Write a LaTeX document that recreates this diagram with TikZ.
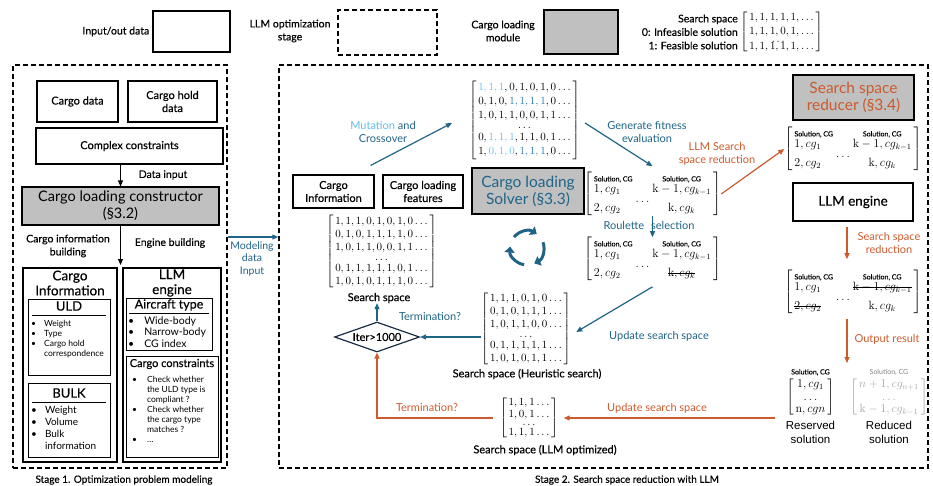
\documentclass[tikz,border=0pt]{standalone}
\usepackage{amsmath}
\usepackage[no-math]{fontspec}
\setmainfont{Lato}
\newfontfamily\semi{Lato}[FakeBold=0.4]
\newfontfamily\arialf{Liberation Sans}
\usepackage{tikz}
\usetikzlibrary{arrows.meta}
\usetikzlibrary{shapes.geometric,positioning}
\usetikzlibrary{calc}
\definecolor{tealb}{RGB}{31,100,135}
\definecolor{skyb}{RGB}{95,190,230}
\definecolor{midb}{RGB}{40,115,180}
\definecolor{rust}{RGB}{205,90,45}
\definecolor{boxgray}{RGB}{192,192,192}
\definecolor{navy}{RGB}{25,45,70}
\newcommand{\fsz}[2]{\fontsize{#1}{#2}\selectfont}
\newcommand{\solhdr}{\text{\fsz{7}{7}\semi Solution, CG}}
\newcommand{\strucksol}[1]{\setbox0\hbox{$#1$}\rlap{\rule[0.55ex]{\wd0}{0.6pt}}\box0}
% solution / CG matrix
\newcommand{\solmat}[4]{$\left[\begin{array}{@{\,}l@{\hspace{3pt}}c@{\hspace{3pt}}c@{\,}}
 \solhdr & & \solhdr\\[-1pt]
 #1 & & #2\\[-2pt]
 & \ldots & \\[-3pt]
 #3 & & #4
\end{array}\right]$}
\tikzset{
    databox/.style={draw, line width=1.1pt, inner sep=0pt, align=center},
    modbox/.style={databox, fill=boxgray},
    stageframe/.style={draw, line width=1.5pt, dash pattern=on 5pt off 3pt},
    subbox/.style={draw, line width=1pt, inner sep=0pt},
    mat/.style={inner sep=0pt},
    lbl/.style={align=center, inner sep=0pt},
    % arrows
    tealarrow/.style={line width=1.2pt, tealb, -{Triangle[length=6pt, width=5pt]}},
    rustarrow/.style={line width=1.2pt, rust, -{Triangle[length=6pt, width=5pt]}},
    blackarrow/.style={line width=1pt, black, -{Triangle[length=6pt, width=5pt]}},
    cycarrow/.style={line width=3pt, tealb, -{Triangle[length=6pt, width=10pt]}}
}
\begin{document}
\begin{tikzpicture}[x=1pt,y=-1pt]
\useasboundingbox (0,0) rectangle (933,485);

% legend
\node[databox, minimum width=77pt, minimum height=41pt] (legIO) at (191.5,31.5) {};
\node[lbl, font=\fsz{10.5}{13}\semi, left=3pt of legIO] (legIOt) {Input/out data};
\node[databox, stageframe, minimum width=99pt, minimum height=45pt] (legLLM) at (387.5,32.5) {};
\node[lbl, font=\fsz{10.5}{13}\semi] (legLLMt) at (290,31) {LLM optimization\\stage};
\node[modbox, minimum width=74pt, minimum height=44pt] (legMod) at (581,32) {};
\node[lbl, font=\fsz{10.5}{13}\semi] (legModt) at (503,31) {Cargo loading\\module};
\node[lbl, align=right, anchor=east, font=\fsz{10.5}{13.5}\semi] (legSSt) at (738,32)
  {Search space\\0: Infeasible solution\\1: Feasible solution};
\node[mat, anchor=west, font=\fsz{11}{14.5}] (legM) at (740,32)
  {$\left[\begin{array}{@{\,}l@{\,}} 1, 1, 1, 1, 1, \ldots\\ 1, 1, 1, 0, 1, \ldots\\[-4.5pt]
   \hphantom{1, 1, }\,\cdots\\[-10pt] 1, 1, 1, 1, 1, \ldots\end{array}\right]$};

% stage 1
\node[stageframe, minimum width=214pt, minimum height=403pt] (stage1) at (120,266.5) {};
\node[databox, minimum width=81pt, minimum height=41pt, font=\fsz{11}{13}\semi] (cdata) at (77.5,101.5) {Cargo data};
\node[databox, minimum width=89pt, minimum height=41pt, font=\fsz{11}{13}\semi] (chold) at (172.5,101.5) {Cargo hold\\data};
\node[databox, minimum width=187pt, minimum height=36pt, font=\fsz{11}{13}\semi] (cons) at (129.5,146) {Complex constraints};
\node[modbox, minimum width=197pt, minimum height=38pt, font=\fsz{14.5}{17}] (ctor) at (120.5,206) {Cargo loading constructor\\(§3.2)};
\draw[blackarrow] (ctor.north |- cons.south) -- (ctor.north);
\node[lbl, font=\fsz{10.5}{13}\semi] (dinput) at (163,175) {Data input};
\coordinate (split) at (120.5,265);
\draw[blackarrow] (ctor.south) -- (split);
\node[lbl, font=\fsz{10.5}{13}\semi] (cibuild) at (68,246) {Cargo information\\building};
\node[lbl, font=\fsz{10.5}{13}\semi] (ebuild) at (170,243) {Engine building};

\node[databox, minimum width=94pt, minimum height=194pt] (cinfo) at (70,365) {};
\node[lbl, font=\fsz{13.5}{15}\semi] (cinfoT) at (70,283) {Cargo\\Information};
\node[subbox, minimum width=82pt, minimum height=76pt] (uld) at (69,337) {};
\node[lbl, font=\fsz{13}{15}\semi] (uldT) at (69,306) {ULD};
\draw[line width=0.8pt] (32,315) -- (106,315);
\node[anchor=north west, inner sep=0pt, font=\fsz{8.5}{10}] (uldI) at (31,319)
  {\begin{tabular}{@{}l@{\hspace{8pt}}l@{}}\textbullet & Weight\\ \textbullet & Type\\ \textbullet & Cargo hold\\ & correspondence\end{tabular}};
\node[subbox, minimum width=82pt, minimum height=74pt] (bulk) at (69,420) {};
\node[lbl, font=\fsz{13}{15}\semi] (bulkT) at (69,393) {BULK};
\draw[line width=0.8pt] (32,402) -- (106,402);
\node[anchor=north west, inner sep=0pt, font=\fsz{10}{12}] (bulkI) at (31,405)
  {\begin{tabular}{@{}l@{\hspace{8pt}}l@{}}\textbullet & Weight\\ \textbullet & Volume\\ \textbullet & Bulk\\ & information\end{tabular}};

\node[databox, minimum width=98pt, minimum height=194pt] (llm) at (172,365) {};
\node[lbl, font=\fsz{13.5}{15}\semi] (llmT) at (172,283) {LLM\\engine};
\node[subbox, minimum width=86pt, minimum height=52pt] (acft) at (169,324) {};
\node[lbl, font=\fsz{12.5}{15}\semi] (acftT) at (169,305) {Aircraft type};
\draw[line width=0.8pt] (129,313) -- (209,313);
\node[anchor=north west, inner sep=0pt, font=\fsz{10.5}{11.5}] (acftI) at (128,316)
  {\begin{tabular}{@{}l@{\hspace{10pt}}l@{}}\textbullet & Wide-body\\ \textbullet & Narrow-body\\ \textbullet & CG index\end{tabular}};
\node[subbox, minimum width=92pt, minimum height=101pt] (ccons) at (172,406.5) {};
\node[lbl, font=\fsz{11}{13}\semi] (cconsT) at (172,364) {Cargo constraints};
\node[anchor=north west, inner sep=0pt, font=\fsz{8.5}{10}] (cconsI) at (132,375)
  {\begin{tabular}{@{}l@{\hspace{10pt}}l@{}}\textbullet & Check whether\\ & the ULD type is\\ & compliant ?\\
   \textbullet & Check whether\\ & the cargo type\\ & matches ?\\ \textbullet & \ldots\end{tabular}};
\node[lbl, font=\fsz{10}{11}\semi] (cap1) at (124,480) {Stage 1. Optimization problem modeling};

% stage 2
\node[stageframe, minimum width=649pt, minimum height=403pt] (stage2) at (603.5,266.5) {};
\draw[tealarrow] ([yshift=29.5pt]stage1.east) -- ([yshift=29.5pt]stage2.west);
\node[lbl, font=\fsz{10.5}{12.5}, tealb] (modin) at (252,259) {Modeling\\data\\Input};

\node[mat, font=\fsz{11}{14}] (topM) at (524.5,120)
  {$\left[\begin{array}{@{\,}c@{\,}}
   \textcolor{skyb}{1, 1, 1}, 0, 1, 0, 1, 0 \ldots\\
   0, 1, 0, \textcolor{midb}{1, 1, 1, 1}, 0 \ldots\\
   1, 0, 1, 1, 0, 0, 1, 1 \ldots\\[-4pt]
   \ldots\\[-2pt]
   0, \textcolor{skyb}{1, 1, 1}, 1, 1, 0, 1 \ldots\\
   1, \textcolor{skyb}{0, 1, 0}, \textcolor{midb}{1, 1, 1}, 0 \ldots
  \end{array}\right]$};
\node[databox, minimum width=81pt, minimum height=33pt, font=\fsz{11}{13}\semi] (info2) at (333.5,191.5) {Cargo\\Information};
\node[databox, minimum width=80pt, minimum height=33pt, font=\fsz{11}{13}\semi] (feat2) at (423,191.5) {Cargo loading\\features};
\draw[tealarrow] ([shift={(-4pt,9pt)}]info2.north east) -- ([shift={(-17pt,-3pt)}]topM.west);
\node[lbl, font=\fsz{11}{13}] (mutL) at (383,132) {\textcolor{skyb}{Mutation} \textcolor{tealb}{and}\\\textcolor{tealb}{Crossover}};

\node[mat, font=\fsz{11}{13}] (ssM) at (381.5,251.5)
  {$\left[\begin{array}{@{\,}c@{\,}}
   1, 1, 1, 0, 1, 0, 1, 0 \ldots\\
   0, 1, 0, 1, 1, 1, 1, 0 \ldots\\
   1, 0, 1, 1, 0, 0, 1, 1 \ldots\\[-3pt]
   \ldots\\[-2pt]
   0, 1, 1, 1, 1, 1, 0, 1 \ldots\\
   1, 0, 1, 0, 1, 1, 1, 0 \ldots
  \end{array}\right]$};
\node[lbl, font=\fsz{11}{13}\semi] (ssL) at (379,298) {Search space};

\node[modbox, minimum width=112pt, minimum height=46pt, font=\fsz{15.5}{17}, text=tealb] (solver) at (528,191) {Cargo loading\\Solver (§3.3)};
\coordinate (cyc) at (527,248);
\foreach \a in {140,20,-100}
  \draw[cycarrow] ($(cyc)+(\a:17pt)$) arc (\a:\a-85:17pt);

\node[mat, font=\fsz{11.5}{12}] (fitM) at (652.5,194) {\solmat{1, cg_1}{\mathrm{k}-1, cg_{k-1}}{2, cg_2}{\mathrm{k}, cg_k}};
\draw[tealarrow] ([shift={(5pt,-3pt)}]topM.east) -- ([yshift=6pt]fitM.north);
\node[lbl, font=\fsz{11}{13}, tealb] (fitL) at (647,132) {Generate fitness\\evaluation};

\node[mat, font=\fsz{11.5}{12}] (selM) at (652.5,259) {\solmat{1, cg_1}{\mathrm{k}-1, cg_{k-1}}{2, cg_2}{\strucksol{\mathrm{k}, cg_k}}};
\draw[tealarrow] (fitM.south) -- (selM.north);
\node[lbl, font=\fsz{11}{13}, tealb] (rouL) at (649,225) {Roulette\hspace{7pt}selection};

\node[modbox, minimum width=121pt, minimum height=45pt, font=\fsz{15.5}{17}, text=rust] (reducer) at (853.5,97.5) {Search space\\reducer (§3.4)};
\node[mat, font=\fsz{11.5}{12}] (redM) at (853,149) {\solmat{1, cg_1}{\mathrm{k}-1, cg_{k-1}}{2, cg_2}{\mathrm{k}, cg_k}};
\draw[rustarrow] (fitM.east) -- (redM.west);
\node[lbl, font=\fsz{11}{13}, rust] (llmsL) at (717,154) {LLM Search\\space reduction};
\node[databox, minimum width=120pt, minimum height=38pt, font=\fsz{13.5}{15}\semi] (llmE) at (853,202) {LLM engine};

\node[mat, font=\fsz{11.5}{12}] (cutM) at (853,292) {\solmat{1, cg_1}{\strucksol{\mathrm{k}-1, cg_{k-1}}}{\strucksol{2, cg_2}}{\mathrm{k}, cg_k}};
\draw[rustarrow] ([shift={(-6pt,-5pt)}]llmE.south) -- ([shift={(-6pt,11pt)}]cutM.north);
\node[lbl, font=\fsz{11}{13}, rust] (ssrL) at (889,243) {Search space\\reduction};

\coordinate (outend) at (847,363);
\draw[rustarrow] ([shift={(-6pt,-5pt)}]cutM.south) -- (outend);
\node[lbl, font=\fsz{11}{13}, rust] (outL) at (887,339) {Output result};

\node[mat, font=\fsz{11.5}{12.5}] (resM) at (810.5,397.5)
  {$\left[\begin{array}{@{\,}c@{\,}} 1, cg_1\\ \ldots\\ \mathrm{n}, cgn\end{array}\right]$};
\node[lbl, font=\fsz{7}{7}\semi, above=3pt of resM] (resH) {Solution, CG};
\node[lbl, font=\fsz{11.5}{14}\arialf, below=5pt of resM] (resL) {Reserved\\solution};
\node[mat, font=\fsz{11.5}{12.5}, text=gray!70] (rdcM) at (889,397.5)
  {$\left[\begin{array}{@{\,}c@{\,}} n+1, cg_{n+1}\\ \ldots\\ \mathrm{k}-1, cg_{k-1}\end{array}\right]$};
\node[lbl, font=\fsz{7}{7}, text=gray, above=3pt of rdcM] (rdcH) {Solution, CG};
\node[lbl, font=\fsz{11.5}{14}\arialf, below=5pt of rdcM] (rdcL) {Reduced\\solution};

\node[mat, font=\fsz{11}{13}] (heurM) at (526,329)
  {$\left[\begin{array}{@{\,}c@{\,}}
   1, 1, 1, 0, 1, 0 \ldots\\
   0, 1, 0, 1, 1, 1 \ldots\\
   1, 0, 1, 1, 0, 0 \ldots\\[-3pt]
   \ldots\\[-2pt]
   0, 1, 1, 1, 1, 1 \ldots\\
   1, 0, 1, 0, 1, 1 \ldots
  \end{array}\right]$};
\node[lbl, font=\fsz{11}{13}\semi] (heurL) at (527,374) {Search space (Heuristic search)};
\draw[tealarrow] ([yshift=-6pt]selM.south) -- ([shift={(5pt,-3pt)}]heurM.east);
\node[lbl, font=\fsz{11}{13}, tealb] (updL) at (659,336) {Update search space};

\node[diamond, draw=navy, line width=1.2pt, aspect=2.8, minimum width=85pt, minimum height=30pt, inner sep=0pt, font=\fsz{11}{13}\semi] (iter) at (377,337) {Iter>1000};
\draw[tealarrow] ([yshift=-8pt]heurM.west) -- (iter.east);
\node[lbl, font=\fsz{11}{13}, tealb] (termT) at (430,317) {Termination?};
\draw[tealarrow] (iter.north) -- (iter.north |- ssL.south);

\node[mat, font=\fsz{11}{11.5}] (llmM) at (529,418)
  {$\left[\begin{array}{@{\,}c@{\,}} 1, 1, 1 \ldots\\ 1, 0, 1 \ldots\\[-3pt] \ldots\\[-2pt] 1, 1, 1 \ldots\end{array}\right]$};
\node[lbl, font=\fsz{11}{13}\semi] (llmL) at (545,450) {Search space (LLM optimized)};
\draw[rustarrow] ($(resM.west |- llmM.east)+(-11pt,0)$) -- ([xshift=5pt]llmM.east);
\node[lbl, font=\fsz{11}{13}, rust] (upd2L) at (657,408) {Update search space};
\draw[rustarrow] ([xshift=-6pt]llmM.west) -| (iter.south);
\node[lbl, font=\fsz{11}{13}, rust] (termR) at (427,408) {Termination?};
\node[lbl, font=\fsz{10}{11}\semi] (cap2) at (627,480) {Stage 2. Search space reduction with LLM};
\end{tikzpicture}
\end{document}
